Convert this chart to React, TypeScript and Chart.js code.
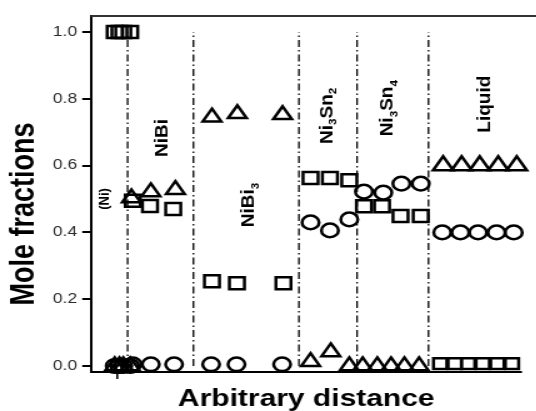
import React, { useEffect, useRef } from 'react';
import { Chart, registerables } from 'chart.js';

Chart.register(...registerables);

// ---------- data ----------
const xTitle = 'Arbitrary distance';
const yTitle = 'Mole fractions';
const yTicks = [0, 0.2, 0.4, 0.6, 0.8, 1.0];
const xTicks = [6];
const boundaries = [8.5, 23.8, 48.3, 61.8, 78.4];
const regionNames = ['(Ni)', 'NiBi', 'NiBi_3', 'Ni_3Sn_2', 'Ni_3Sn_4', 'Liquid'];
const regionLabelX = [2.9, 16.2, 36.2, 54.4, 68.5, 91.0];
const regionLabelY = [0.5, 0.683, 0.482, 0.749, 0.772, 0.784];

const squareX = [5.5, 6.6, 7.5, 9.1, 9.7, 13.7, 19.1, 28.1, 33.9, 44.7, 51.0, 55.5, 60.0, 63.4, 67.6, 71.9, 76.6];
const squareY = [1, 1, 1, 1, 0.495, 0.479, 0.47, 0.254, 0.248, 0.248, 0.563, 0.563, 0.556, 0.478, 0.478, 0.449, 0.449];
const liquidSquareX = [81.1, 84.5, 87.6, 91.0, 94.4, 97.8];
const liquidSquareY = [0.007, 0.007, 0.007, 0.007, 0.007, 0.007];

const triangleX = [5.5, 6.6, 7.5, 9.1, 9.4, 13.9, 19.6, 28.1, 34.0, 44.5, 51.0, 55.7, 60.0, 63.1, 66.5, 69.7, 72.8, 76.2];
const triangleY = [0, 0, 0, 0, 0.503, 0.521, 0.528, 0.745, 0.755, 0.752, 0.013, 0.042, 0, 0, 0, 0, 0, 0];
const liquidTriangleX = [81.8, 86.1, 90.3, 94.6, 98.9];
const liquidTriangleY = [0.6, 0.6, 0.6, 0.6, 0.6];

const circleX = [5.5, 6.6, 7.5, 9.1, 9.7, 13.9, 19.3, 27.9, 33.8, 44.4, 51.0, 55.5, 60.0, 63.4, 67.9, 72.1, 76.6, 81.6, 85.8, 89.9, 94.2, 98.2];
const circleY = [0, 0, 0, 0, 0.005, 0.005, 0.005, 0.005, 0.005, 0.005, 0.43, 0.406, 0.439, 0.522, 0.519, 0.546, 0.546, 0.4, 0.4, 0.4, 0.4, 0.4];

// ---------- layout ----------
const S = 1.25; // horizontal stretch of the figure
const CW = 429;
const CH = 411;
const FONT = '"Liberation Sans", Arial, Helvetica, sans-serif';

const pts = (xs: number[], ys: number[]) => xs.map((x, i) => ({ x, y: ys[i] }));

function parseLabel(t: string) {
  const parts: { text: string; sub: boolean }[] = [];
  let i = 0;
  let buf = '';
  while (i < t.length) {
    if (t[i] === '_' && i + 1 < t.length) {
      if (buf) parts.push({ text: buf, sub: false });
      buf = '';
      parts.push({ text: t[i + 1], sub: true });
      i += 2;
    } else {
      buf += t[i];
      i++;
    }
  }
  if (buf) parts.push({ text: buf, sub: false });
  return parts;
}

function drawRotatedLabel(ctx: CanvasRenderingContext2D, text: string, x: number, y: number, size: number) {
  const parts = parseLabel(text);
  const subSize = size * 0.62;
  const widths = parts.map((p) => {
    ctx.font = `bold ${p.sub ? subSize : size}px ${FONT}`;
    return ctx.measureText(p.text).width;
  });
  const L = widths.reduce((a, b) => a + b, 0);
  ctx.save();
  ctx.translate(x, y);
  ctx.scale(0.8, 1);
  ctx.rotate(-Math.PI / 2);
  ctx.textAlign = 'left';
  ctx.textBaseline = 'alphabetic';
  ctx.fillStyle = '#000';
  let cx = -L / 2;
  const base = size * 0.358;
  parts.forEach((p, i) => {
    ctx.font = `bold ${p.sub ? subSize : size}px ${FONT}`;
    ctx.fillText(p.text, cx, p.sub ? base + size * 0.25 : base);
    cx += widths[i];
  });
  ctx.restore();
}

const annotPlugin = {
  id: 'annot',
  afterDraw(chart: any) {
    const { ctx, chartArea, scales } = chart;
    ctx.save();
    // top frame line
    ctx.strokeStyle = '#333';
    ctx.lineWidth = 2;
    ctx.beginPath();
    ctx.moveTo(chartArea.left, chartArea.top);
    ctx.lineTo(chart.width, chartArea.top);
    ctx.stroke();

    // axis titles
    ctx.fillStyle = '#000';
    ctx.font = `bold 24px ${FONT}`;
    ctx.textAlign = 'center';
    ctx.textBaseline = 'alphabetic';
    ctx.fillText(xTitle, (chartArea.left + chartArea.right) / 2, 406);

    ctx.save();
    ctx.translate(20, 214);
    ctx.rotate(-Math.PI / 2);
    ctx.font = `bold 27px ${FONT}`;
    ctx.textAlign = 'center';
    ctx.textBaseline = 'middle';
    ctx.fillText(yTitle, 0, 0);
    ctx.restore();

    // region labels
    regionNames.forEach((name, i) => {
      const px = scales.x.getPixelForValue(regionLabelX[i]);
      const py = scales.y.getPixelForValue(regionLabelY[i]);
      drawRotatedLabel(ctx, name, px, py, i === 0 ? 13 : 19);
    });
    ctx.restore();
  },
};

export default function App() {
  const ref = useRef<HTMLCanvasElement>(null);

  useEffect(() => {
    if (!ref.current) return;
    const markerBase = {
      type: 'scatter' as const,
      showLine: false,
      borderColor: '#000',
      backgroundColor: 'rgba(0,0,0,0)',
      borderWidth: 2.5,
      clip: false as const,
    };
    const boundarySets = boundaries.map((b) => ({
      type: 'line' as const,
      data: [
        { x: b, y: 0 },
        { x: b, y: 1 },
      ],
      borderColor: '#000',
      borderWidth: 1.3,
      borderDash: [7, 3, 1.5, 3],
      pointRadius: 0,
      showLine: true,
      fill: false,
    }));
    const chart = new Chart(ref.current, {
      type: 'scatter',
      data: {
        datasets: [
          { ...markerBase, data: pts(squareX, squareY), pointStyle: 'rect', pointRadius: 8.5 },
          { ...markerBase, data: pts(liquidSquareX, liquidSquareY), pointStyle: 'rect', pointRadius: 7.5 },
          { ...markerBase, data: pts(triangleX, triangleY), pointStyle: 'triangle', pointRadius: 8.5 },
          { ...markerBase, data: pts(liquidTriangleX, liquidTriangleY), pointStyle: 'triangle', pointRadius: 9.3 },
          { ...markerBase, data: pts(circleX, circleY), pointStyle: 'circle', pointRadius: 6.8 },
          ...boundarySets,
        ] as any,
      },
      options: {
        responsive: false,
        animation: false,
        devicePixelRatio: 1,
        layout: { padding: { left: 0, right: 0, top: 16, bottom: 0 } },
        plugins: { legend: { display: false }, tooltip: { enabled: false } },
        events: [],
        scales: {
          x: {
            type: 'linear',
            min: 0,
            max: 100,
            afterBuildTicks: (s: any) => {
              s.ticks = xTicks.map((v) => ({ value: v }));
            },
            afterFit: (s: any) => {
              s.height = 39;
            },
            ticks: { display: false },
            grid: { display: true, drawOnChartArea: false, drawTicks: true, tickLength: 7, color: '#000', lineWidth: 1.6 },
            border: { display: true, color: '#000', width: 2 },
          },
          y: {
            type: 'linear',
            min: -0.018,
            max: 1.048,
            afterBuildTicks: (s: any) => {
              s.ticks = yTicks.map((v) => ({ value: v }));
            },
            afterFit: (s: any) => {
              s.width = 72.8;
            },
            ticks: {
              callback: (v: any) => Number(v).toFixed(1),
              font: { size: 14, family: FONT },
              color: '#2a2a2a',
              padding: 4,
            },
            grid: { display: true, drawOnChartArea: false, drawTicks: true, tickLength: 7, color: '#000', lineWidth: 2 },
            border: { display: true, color: '#000', width: 2 },
          },
        },
      },
      plugins: [annotPlugin],
    } as any);
    return () => chart.destroy();
  }, []);

  return (
    <div
      style={{
        position: 'fixed',
        left: 0,
        top: 0,
        width: 536,
        height: 411,
        overflow: 'hidden',
        background: '#fff',
      }}
    >
      <canvas
        ref={ref}
        width={CW}
        height={CH}
        style={{
          display: 'block',
          width: CW,
          height: CH,
          transform: `scaleX(${S})`,
          transformOrigin: '0 0',
        }}
      />
    </div>
  );
}
